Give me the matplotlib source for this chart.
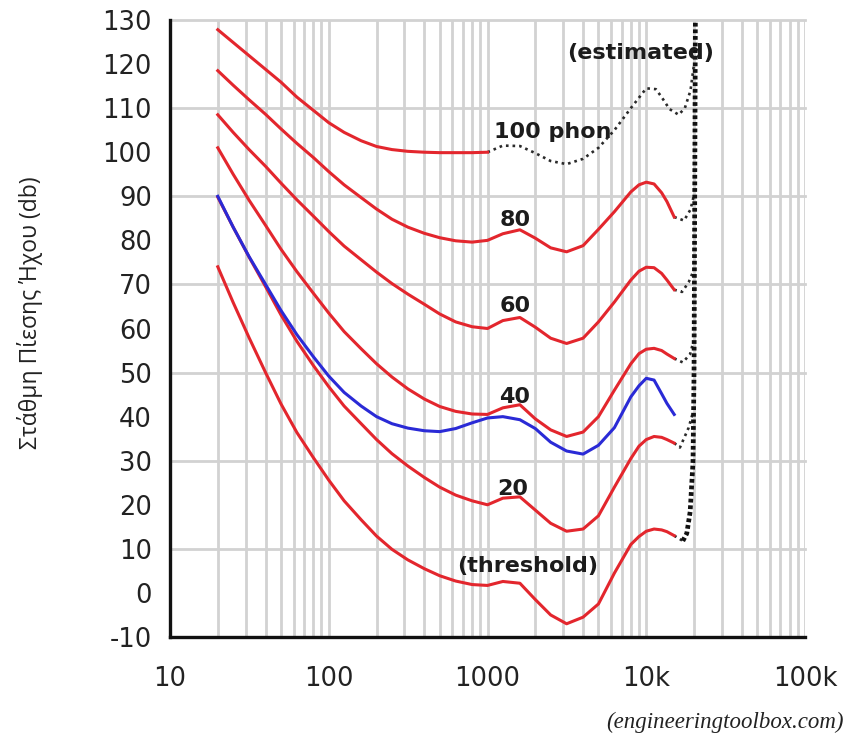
"""Equal-loudness contours (ISO 226) redrawn with matplotlib."""
import matplotlib
matplotlib.use("Agg")
import matplotlib.pyplot as plt
from matplotlib.ticker import FixedLocator, FixedFormatter, LogLocator, NullFormatter

plt.rcParams["axes.unicode_minus"] = False

# ── data ─────────────────────────────────────────────────────────────────────
FREQ = [20, 25, 31.5, 40, 50, 63, 80, 100, 125, 160, 200, 250, 315, 400, 500,
        630, 800, 1000, 1250, 1600, 2000, 2500, 3150, 4000, 5000, 6300, 8000,
        9000, 10000, 11200, 12500, 13500, 15000]

PHON_80 = [118.5, 115.2, 111.9, 108.6, 105.3, 102.0, 98.8, 95.6, 92.6, 89.7,
           87.1, 84.8, 83.0, 81.6, 80.6, 79.9, 79.6, 80.0, 81.5, 82.4, 80.5,
           78.3, 77.4, 78.8, 82.5, 86.5, 91.0, 92.6, 93.2, 92.8, 90.8, 88.8,
           85.3]
PHON_60 = [108.5, 104.5, 100.6, 96.8, 93.0, 89.2, 85.5, 82.0, 78.7, 75.6,
           72.8, 70.2, 67.8, 65.5, 63.3, 61.5, 60.4, 60.0, 61.8, 62.5, 60.3,
           57.8, 56.6, 57.8, 61.5, 66.0, 71.0, 73.0, 73.9, 73.8, 72.5, 71.0,
           68.8]
PHON_40 = [101.0, 95.0, 89.1, 83.4, 78.0, 72.9, 68.0, 63.5, 59.3, 55.4, 52.0,
           49.0, 46.3, 44.0, 42.3, 41.2, 40.6, 40.5, 42.0, 42.7, 39.5, 37.0,
           35.5, 36.5, 40.0, 46.0, 52.0, 54.3, 55.3, 55.5, 55.0, 54.2, 53.2]
PHON_20 = [89.8, 83.0, 76.2, 69.5, 63.1, 57.1, 51.6, 46.8, 42.4, 38.4, 34.8,
           31.6, 28.8, 26.2, 24.0, 22.2, 20.9, 20.0, 21.5, 21.8, 18.8, 15.8,
           14.0, 14.5, 17.5, 24.0, 30.5, 33.3, 34.8, 35.5, 35.3, 34.8, 34.0]
THRESHOLD = [74.0, 65.9, 57.9, 50.0, 42.9, 36.4, 30.7, 25.6, 20.9, 16.6, 12.9,
             9.9, 7.5, 5.5, 3.9, 2.7, 1.9, 1.7, 2.6, 2.2, -1.5, -5.0, -7.0,
             -5.5, -2.5, 4.5, 11.0, 12.8, 14.0, 14.5, 14.3, 13.9, 13.0]
BLUE_40 = [90.0, 83.0, 76.3, 70.0, 64.1, 58.6, 53.6, 49.2, 45.5, 42.4, 40.0,
           38.4, 37.4, 36.8, 36.6, 37.3, 38.6, 39.7, 40.0, 39.3, 37.3, 34.2,
           32.2, 31.5, 33.5, 37.5, 44.5, 47.0, 48.7, 48.3, 45.2, 43.0, 40.5]

FREQ_100 = [20, 25, 31.5, 40, 50, 63, 80, 100, 125, 160, 200, 250, 315, 400,
            500, 630, 800, 1000]
PHON_100 = [127.8, 124.9, 121.9, 118.8, 115.9, 112.5, 109.5, 106.7, 104.5,
            102.6, 101.3, 100.6, 100.2, 100.0, 99.9, 99.9, 99.9, 100.0]

# dotted "estimated" parts
EST_100_F = [1000, 1250, 1600, 2000, 2500, 3150, 4000, 5000, 6300, 8000, 10000,
             11500, 12500, 14000, 16000, 17500, 19000, 20000]
EST_100_DB = [100, 101.5, 101.4, 99.8, 98.0, 97.3, 98.5, 101.0, 105.0, 110.0,
              114.5, 114.3, 112.5, 109.8, 108.5, 110.0, 114.0, 120.0]
TAIL_80_F, TAIL_80_DB = [15000, 17300, 19000, 19900], [85.3, 84.5, 87.0, 90.0]
TAIL_60_F, TAIL_60_DB = [15000, 16800, 18500, 19800], [68.8, 68.3, 70.5, 73.0]
TAIL_40_F, TAIL_40_DB = [15000, 17000, 18900, 19800], [53.2, 52.3, 54.2, 57.0]
TAIL_20_F, TAIL_20_DB = [15000, 16300, 18500, 19700], [34.0, 33.0, 37.5, 41.0]
TAIL_TH_F, TAIL_TH_DB = [15000, 17000], [13.0, 11.8]
LIMIT_F = [17000, 18000, 18900, 19700, 20000, 20200, 20400]
LIMIT_DB = [11.8, 13.5, 18.4, 29.7, 50.0, 90.0, 132.0]

X_TICKS = [10, 100, 1000, 10000, 100000]
X_LABELS = ["10", "100", "1000", "10k", "100k"]
Y_TICKS = [-10, 0, 10, 20, 30, 40, 50, 60, 70, 80, 90, 100, 110, 120, 130]
Y_GRID = [10, 30, 50, 70, 90, 110, 130]

RED = "#e3262d"
BLUE = "#2a2ad6"
GRID = "#d2d2d2"
DOT = "#2a2a2a"

# ── figure ──────────────────────────────────────────────────────────────────
W, H = 847, 735
fig = plt.figure(figsize=(W / 100, H / 100), dpi=100)
fig.patch.set_facecolor("white")
ax = fig.add_axes([170 / W, 1 - 637 / H, 635 / W, 617 / H])
ax.set_xscale("log")
ax.set_xlim(10, 100000)
ax.set_ylim(-10, 130)

# grid
ax.xaxis.set_major_locator(FixedLocator(X_TICKS))
ax.xaxis.set_major_formatter(FixedFormatter(X_LABELS))
ax.xaxis.set_minor_locator(LogLocator(base=10, subs=range(2, 10)))
ax.xaxis.set_minor_formatter(NullFormatter())
ax.grid(axis="x", which="both", color=GRID, lw=2.0, zorder=0)
for g in Y_GRID:
    ax.axhline(g, color=GRID, lw=2.0, zorder=0, clip_on=False)
ax.set_yticks(Y_TICKS)
ax.set_axisbelow(True)

ax.tick_params(axis="both", which="both", length=0, labelsize=18.5,
               labelcolor="#222222")
ax.tick_params(axis="y", pad=13)
ax.tick_params(axis="x", pad=21)

for s in ("top", "right"):
    ax.spines[s].set_visible(False)
for s in ("left", "bottom"):
    ax.spines[s].set_color("#111111")
    ax.spines[s].set_linewidth(2.4)
    ax.spines[s].set_zorder(5)

# ── curves ──────────────────────────────────────────────────────────────────
dotted = dict(color=DOT, lw=1.9, ls=(0, (1, 1.5)), zorder=3)
for fx, dy in [(EST_100_F, EST_100_DB), (TAIL_80_F, TAIL_80_DB),
               (TAIL_60_F, TAIL_60_DB), (TAIL_40_F, TAIL_40_DB),
               (TAIL_20_F, TAIL_20_DB), (TAIL_TH_F, TAIL_TH_DB)]:
    ax.plot(fx, dy, **dotted)
ax.plot(LIMIT_F, LIMIT_DB, color="#111111", lw=3.4, ls=(0, (0.8, 0.6)),
        zorder=3)

ax.plot(FREQ_100, PHON_100, color=RED, lw=2.2, zorder=4)
for series in (PHON_80, PHON_60, PHON_40, PHON_20, THRESHOLD):
    ax.plot(FREQ, series, color=RED, lw=2.2, zorder=4)
ax.plot(FREQ, BLUE_40, color=BLUE, lw=2.2, zorder=4)

# ── labels on curves ────────────────────────────────────────────────────────
lab = dict(ha="center", va="center", fontsize=16, fontweight="bold",
           color="#1c1c1c", zorder=6)
ax.text(2590, 104.6, "100 phon", **lab)
ax.text(9270, 122.5, "(estimated)", **lab)
ax.text(1490, 84.7, "80", **lab)
ax.text(1500, 65.0, "60", **lab)
ax.text(1490, 44.4, "40", **lab)
ax.text(1450, 23.6, "20", **lab)
ax.text(1800, 6.2, "(threshold)", **lab)

fig.text(30 / W, 1 - 313 / H, "Στάθμη Πίεσης Ήχου (db)", rotation=90,
         ha="center", va="center", fontsize=16.5, family="Open Sans",
         color="#222222")
fig.text(725 / W, 1 - 722 / H, "(engineeringtoolbox.com)", ha="center",
         va="center", fontsize=16.5, family="Liberation Serif", style="italic",
         color="#222222")

fig.savefig("out.png", dpi=100, facecolor="white")
